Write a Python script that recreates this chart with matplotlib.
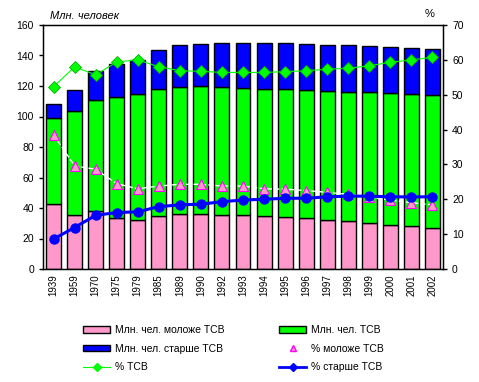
import numpy as np
import matplotlib.pyplot as plt
from matplotlib.patches import Patch
from matplotlib.lines import Line2D

plt.rcParams['font.family'] = ['Liberation Sans', 'DejaVu Sans']

# Данные
years = ['1939', '1959', '1970', '1975', '1979', '1985', '1989', '1990', '1992', '1993',
         '1994', '1995', '1996', '1997', '1998', '1999', '2000', '2001', '2002']
total = [108.0, 117.4, 129.8, 134.4, 137.0, 143.6, 146.9, 147.5, 148.2, 148.2,
         148.2, 148.2, 147.5, 146.9, 146.9, 146.2, 145.6, 145.0, 144.3]
young_plus_work = [99.2, 103.6, 110.8, 113.0, 114.5, 118.0, 119.5, 119.8, 119.5, 118.9,
                   118.2, 118.2, 117.6, 116.9, 116.3, 116.3, 115.4, 114.8, 114.1]
young = [42.4, 35.6, 37.8, 33.6, 32.3, 35.0, 36.3, 36.3, 35.6, 35.6,
         35.0, 34.3, 33.6, 32.3, 31.7, 30.4, 29.1, 28.2, 27.1]
pct_work = [52.3, 58.0, 55.7, 59.4, 60.0, 58.0, 56.9, 56.7, 56.4, 56.4,
            56.4, 56.6, 56.9, 57.3, 57.6, 58.3, 59.3, 60.0, 60.7]
pct_young = [38.5, 29.6, 28.6, 24.5, 23.0, 23.8, 24.3, 24.3, 23.8, 23.8,
             23.0, 22.9, 22.5, 22.0, 21.4, 20.6, 19.8, 19.0, 18.4]
pct_old = [8.6, 11.9, 15.4, 16.2, 16.4, 17.9, 18.4, 18.6, 19.3, 19.8,
           20.0, 20.3, 20.3, 20.7, 20.9, 20.9, 20.7, 20.7, 20.7]

work = np.array(young_plus_work) - np.array(young)
old = np.array(total) - np.array(young_plus_work)

PINK = '#FF99CC'
GREEN = '#00FF00'
BLUE = '#0000FF'

fig = plt.figure(figsize=(4.79, 3.82), dpi=100)
ax = fig.add_axes([43 / 479, 1 - 269 / 382, 400 / 479, 244 / 382])
x = np.arange(len(years))
w = 0.71
ax.bar(x, young, w, color=PINK, edgecolor='black', linewidth=1)
ax.bar(x, work, w, bottom=young, color=GREEN, edgecolor='black', linewidth=1)
ax.bar(x, old, w, bottom=young_plus_work, color=BLUE, edgecolor='black', linewidth=1)
ax.set_xlim(-0.5, len(years) - 0.5)
ax.set_ylim(0, 160)
ax.set_yticks(range(0, 161, 20))
ax.set_xticks(x)
ax.set_xticklabels(years, rotation=90, fontsize=7)
ax.tick_params(axis='x', length=0, pad=4)
ax.tick_params(axis='y', labelsize=7.5, length=3, width=1)
for s in ax.spines.values():
    s.set_linewidth(1)

ax2 = ax.twinx()
ax2.set_ylim(0, 70)
ax2.set_yticks(range(0, 71, 10))
ax2.tick_params(axis='y', labelsize=7.5, length=3, width=1)
ax2.plot(x, pct_work, '-D', color=GREEN, lw=0.8, ms=6.5, mec='#00B000', mew=0.6)
ax2.plot(x, pct_young, '^', ls='--', color='white', lw=1, ms=7.5,
         mfc=PINK, mec='#FF00FF', mew=0.8)
ax2.plot(x, pct_old, '-o', color=BLUE, lw=2.2, ms=6.5, mfc=BLUE, mec=BLUE)

fig.text(50 / 479, 1 - 16 / 382, 'Млн. человек', fontsize=8, style='italic', va='center')
fig.text(430 / 479, 1 - 14 / 382, '%', fontsize=8, va='center', ha='center')

handles = [
    Patch(facecolor=PINK, edgecolor='black', lw=1),
    Patch(facecolor=BLUE, edgecolor='black', lw=1),
    Line2D([], [], color=GREEN, lw=0.8, marker='D', ms=4),
    Patch(facecolor=GREEN, edgecolor='black', lw=1),
    Line2D([], [], ls='none', marker='^', ms=5, mfc=PINK, mec='#FF00FF'),
    Line2D([], [], color=BLUE, lw=2, marker='D', ms=4),
]
labels = ['Млн. чел. моложе ТСВ', 'Млн. чел. старше ТСВ', '% ТСВ',
          'Млн. чел. ТСВ', '% моложе ТСВ', '% старше ТСВ']
fig.legend(handles, labels, loc='upper left', bbox_to_anchor=(74 / 479, 1 - 316 / 382),
           ncol=2, frameon=False, fontsize=7.5, handlelength=2.6, handleheight=0.6,
           handletextpad=0.4, columnspacing=5.3, labelspacing=0.8)

fig.savefig('out.png', dpi=100)
